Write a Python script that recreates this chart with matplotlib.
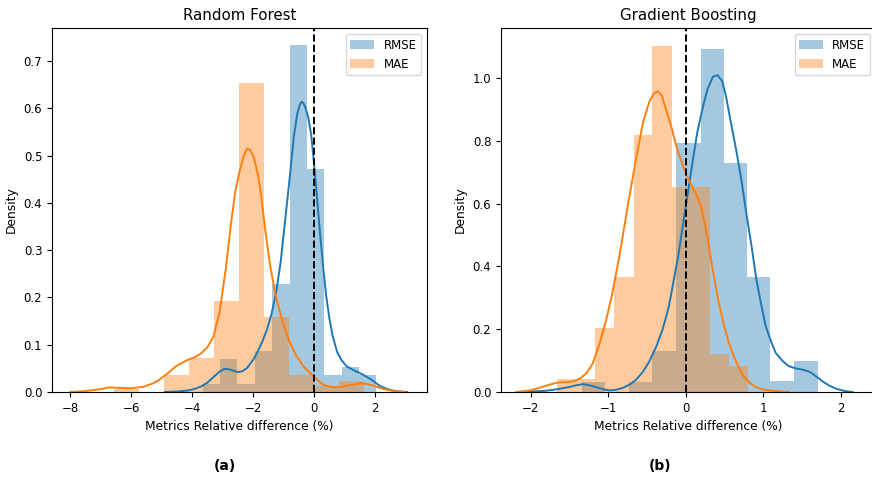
import numpy as np
import matplotlib
matplotlib.use("Agg")
import matplotlib.pyplot as plt
from matplotlib.patches import Patch

# Random Forest: histogram bins (edges, density) and KDE curves
rf_mae_edges = [-6.57, -5.75, -4.93, -4.11, -3.29, -2.47, -1.65, -0.83, -0.01, 0.81, 1.63]
rf_mae_hist = [0.006, 0.0, 0.035, 0.071, 0.193, 0.654, 0.158, 0.035, 0.012, 0.024]
rf_rmse_edges = [-3.66, -3.09, -2.52, -1.95, -1.38, -0.81, -0.24, 0.33, 0.90, 1.47, 2.04]
rf_rmse_hist = [0.016, 0.070, 0.016, 0.087, 0.228, 0.734, 0.472, 0.035, 0.052, 0.035]

rf_mae_kde_x = [-8.0, -7.5, -7.0, -6.7, -6.5, -6.0, -5.6, -5.3, -5.1, -4.8, -4.5, -4.15, -3.9,
                -3.7, -3.5, -3.3, -3.1, -2.9, -2.75, -2.6, -2.45, -2.3, -2.2, -2.1, -1.98,
                -1.85, -1.75, -1.6, -1.45, -1.3, -1.15, -1.0, -0.8, -0.6, -0.35, -0.1, 0.1,
                0.3, 0.6, 0.9, 1.2, 1.5, 1.75, 2.0, 2.3, 2.6, 3.0]
rf_mae_kde_y = [0.0, 0.002, 0.006, 0.010, 0.009, 0.008, 0.011, 0.018, 0.025, 0.040, 0.056, 0.068,
                0.074, 0.082, 0.095, 0.118, 0.170, 0.260, 0.345, 0.420, 0.466, 0.502, 0.515,
                0.512, 0.496, 0.460, 0.420, 0.340, 0.270, 0.215, 0.175, 0.142, 0.105, 0.078,
                0.054, 0.038, 0.026, 0.015, 0.010, 0.011, 0.015, 0.018, 0.017, 0.012, 0.006,
                0.002, 0.0]
rf_rmse_kde_x = [-4.9, -4.5, -4.15, -3.9, -3.7, -3.5, -3.28, -3.1, -2.95, -2.8, -2.65, -2.5, -2.35,
                 -2.2, -2.0, -1.85, -1.7, -1.55, -1.4, -1.25, -1.1, -0.95, -0.8, -0.67, -0.55,
                 -0.47, -0.41, -0.35, -0.28, -0.2, -0.1, 0.0, 0.1, 0.2, 0.3, 0.4, 0.5, 0.6,
                 0.75, 0.9, 1.07, 1.3, 1.5, 1.7, 1.9, 2.15, 2.4, 2.6, 2.8, 3.05]
rf_rmse_kde_y = [0.0, 0.001, 0.003, 0.007, 0.012, 0.020, 0.033, 0.043, 0.049, 0.048, 0.045, 0.042,
                 0.044, 0.051, 0.068, 0.086, 0.107, 0.132, 0.165, 0.210, 0.275, 0.365, 0.455,
                 0.540, 0.590, 0.608, 0.614, 0.611, 0.600, 0.582, 0.545, 0.480, 0.405, 0.330,
                 0.260, 0.200, 0.155, 0.120, 0.085, 0.067, 0.054, 0.046, 0.040, 0.033, 0.025,
                 0.013, 0.006, 0.003, 0.001, 0.0]

# Gradient Boosting: histogram bins (edges, density) and KDE curves
gb_mae_edges = [-1.66, -1.41, -1.17, -0.92, -0.67, -0.43, -0.18, 0.06, 0.31, 0.56, 0.80]
gb_mae_hist = [0.040, 0.040, 0.203, 0.367, 0.820, 1.104, 0.654, 0.654, 0.121, 0.082]
gb_rmse_edges = [-1.34, -1.04, -0.73, -0.43, -0.12, 0.19, 0.49, 0.79, 1.09, 1.40, 1.70]
gb_rmse_hist = [0.033, 0.0, 0.033, 0.131, 0.794, 1.093, 0.730, 0.368, 0.036, 0.100]

gb_mae_kde_x = [-2.18, -2.01, -1.9, -1.8, -1.67, -1.58, -1.5, -1.42, -1.35, -1.28, -1.2, -1.11,
                -1.03, -0.95, -0.85, -0.75, -0.65, -0.55, -0.47, -0.41, -0.36, -0.31, -0.25,
                -0.18, -0.12, -0.05, 0.0, 0.07, 0.13, 0.2, 0.27, 0.35, 0.42, 0.48, 0.55, 0.61,
                0.68, 0.73, 0.82, 0.91, 1.0, 1.08, 1.2, 1.33]
gb_mae_kde_y = [0.0, 0.005, 0.012, 0.020, 0.029, 0.031, 0.032, 0.036, 0.045, 0.060, 0.090, 0.155,
                0.225, 0.310, 0.440, 0.590, 0.730, 0.860, 0.925, 0.952, 0.958, 0.945, 0.897,
                0.840, 0.781, 0.730, 0.696, 0.660, 0.632, 0.590, 0.505, 0.385, 0.290, 0.225,
                0.160, 0.119, 0.080, 0.055, 0.030, 0.015, 0.008, 0.005, 0.002, 0.0]
gb_rmse_kde_x = [-2.18, -2.0, -1.8, -1.65, -1.5, -1.42, -1.33, -1.25, -1.15, -1.05, -0.98, -0.9,
                 -0.81, -0.72, -0.64, -0.55, -0.47, -0.38, -0.3, -0.22, -0.17, -0.1, -0.04,
                 0.03, 0.09, 0.15, 0.22, 0.28, 0.35, 0.41, 0.47, 0.52, 0.58, 0.65, 0.72, 0.78,
                 0.85, 0.91, 0.97, 1.03, 1.1, 1.16, 1.25, 1.33, 1.42, 1.51, 1.58, 1.64, 1.7,
                 1.76, 1.85, 1.94, 2.05, 2.15]
gb_rmse_kde_y = [0.0, 0.001, 0.004, 0.009, 0.016, 0.021, 0.025, 0.022, 0.015, 0.008, 0.005, 0.007,
                 0.013, 0.024, 0.039, 0.065, 0.097, 0.145, 0.198, 0.270, 0.336, 0.430, 0.527,
                 0.640, 0.738, 0.830, 0.908, 0.965, 1.005, 1.010, 0.990, 0.940, 0.860, 0.770,
                 0.670, 0.569, 0.460, 0.357, 0.280, 0.209, 0.160, 0.124, 0.098, 0.082, 0.075,
                 0.071, 0.066, 0.057, 0.046, 0.034, 0.020, 0.010, 0.003, 0.0]

panels = [
    ("Random Forest", "(a)", (-8.6, 3.7), (0, 0.77), [0, 0.1, 0.2, 0.3, 0.4, 0.5, 0.6, 0.7],
     rf_rmse_edges, rf_rmse_hist, rf_mae_edges, rf_mae_hist,
     rf_rmse_kde_x, rf_rmse_kde_y, rf_mae_kde_x, rf_mae_kde_y),
    ("Gradient Boosting", "(b)", (-2.38, 2.45), (0, 1.16), [0, 0.2, 0.4, 0.6, 0.8, 1.0],
     gb_rmse_edges, gb_rmse_hist, gb_mae_edges, gb_mae_hist,
     gb_rmse_kde_x, gb_rmse_kde_y, gb_mae_kde_x, gb_mae_kde_y),
]

c_rmse = "#1f77b4"
c_mae = "#ff7f0e"

fig = plt.figure(figsize=(8.72, 4.8), dpi=100)
axes = [fig.add_axes([52 / 872, 88 / 480, 375 / 872, 364 / 480]),
        fig.add_axes([501 / 872, 88 / 480, 375 / 872, 364 / 480])]
label_x = [225 / 872, 660 / 872]

for ax, lx, p in zip(axes, label_x, panels):
    (title, tag, xlim, ylim, yticks, r_edges, r_hist, m_edges, m_hist,
     r_kx, r_ky, m_kx, m_ky) = p
    for edges, hist, col in [(r_edges, r_hist, c_rmse), (m_edges, m_hist, c_mae)]:
        edges = np.array(edges)
        ax.bar(edges[:-1], hist, width=np.diff(edges), align="edge",
               color=col, alpha=0.4, linewidth=0)
    ax.plot(r_kx, r_ky, color=c_rmse, lw=1.4)
    ax.plot(m_kx, m_ky, color=c_mae, lw=1.4)
    ax.axvline(0, color="black", ls="--", lw=1.4)
    ax.set_xlim(*xlim)
    ax.set_ylim(*ylim)
    ax.set_yticks(yticks)
    ax.set_title(title, fontsize=10.8)
    ax.set_xlabel("Metrics Relative difference (%)", fontsize=8.8)
    ax.set_ylabel("Density", fontsize=8.8)
    ax.tick_params(labelsize=8.5)
    handles = [Patch(color=c_rmse, alpha=0.4, lw=0), Patch(color=c_mae, alpha=0.4, lw=0)]
    ax.legend(handles, ["RMSE", "MAE"], loc="upper right", fontsize=8.5)
    fig.text(lx, 10 / 480, tag, fontsize=10, fontweight="bold", ha="center")

fig.savefig("out.png", dpi=100)
